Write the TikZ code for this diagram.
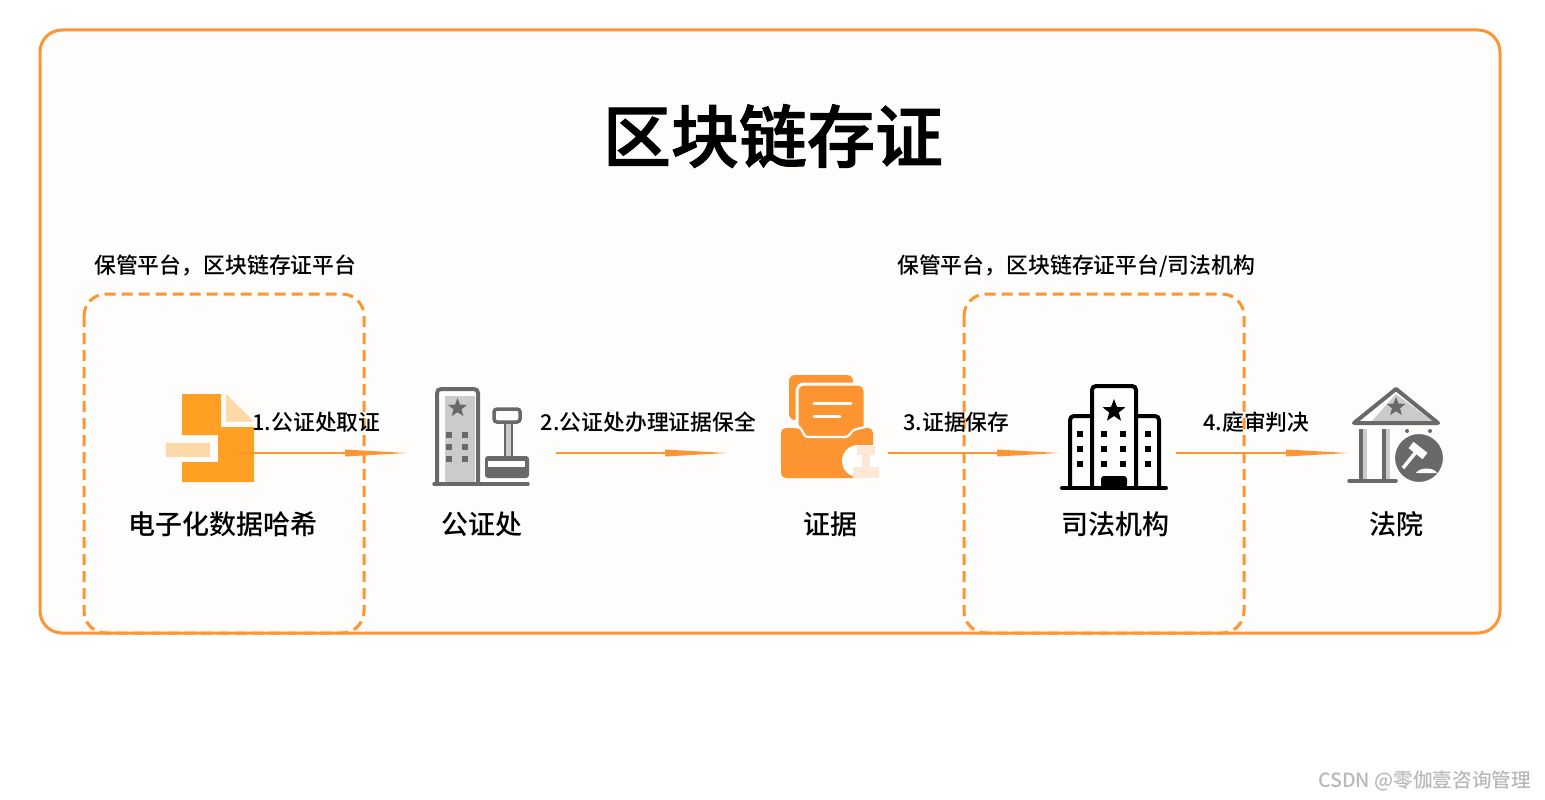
\documentclass[tikz,border=0pt]{standalone}
\usepackage{fontspec}
\setmainfont{Noto Sans CJK SC Medium}
\newfontfamily\titlefont[FakeBold=1.6]{Noto Sans CJK SC Medium}
\usetikzlibrary{arrows.meta,shapes.geometric}
\definecolor{org}{HTML}{FF9433}
\definecolor{docorg}{HTML}{FFA024}
\definecolor{doclight}{HTML}{FFD8A8}
\definecolor{foldorg}{HTML}{FD9432}
\definecolor{ivory}{HTML}{FFFDFB}
\definecolor{gr}{HTML}{696969}
\definecolor{lgr}{HTML}{CBCBCB}
\definecolor{pale}{HTML}{FDE8D8}
\tikzset{
  x=1pt,y=-1pt,
  frame/.style={draw=org,line width=3pt,rounded corners=22pt},
  zone/.style={draw=org,line width=3pt,rounded corners=22pt,dash pattern=on 11pt off 6pt},
  flow/.style={draw=org,line width=1.1pt,-{Triangle[length=62pt,width=7pt,fill=org,line width=0pt]}},
  steplabel/.style={font=\fontsize{21.8}{26}\selectfont,inner sep=0pt},
  iconlabel/.style={font=\fontsize{27}{32}\selectfont,inner sep=0pt},
  zonelabel/.style={font=\fontsize{21.85}{26}\selectfont,inner sep=0pt,anchor=west},
  starmark/.style={star,star points=5,star point ratio=2.38,inner sep=0pt,fill=#1,draw=none},
  win/.style={fill=#1,draw=none}
}
\begin{document}
\begin{tikzpicture}
\useasboundingbox (0,0) rectangle (1545,800);
\fill[white] (0,0) rectangle (1545,800);
% frame
\path[frame,fill=ivory] (40,30) rectangle (1500,633);
\node[font=\fontsize{68}{76}\titlefont\selectfont,inner sep=0pt] (title) at (773,136) {区块链存证};
% dashed zones
\path[zone] (84,294) rectangle (364,633);
\path[zone] (964,294) rectangle (1244,633);
\node[zonelabel] (z1) at (94,265.5) {保管平台，区块链存证平台};
\node[zonelabel] (z2) at (897,266.5) {保管平台，区块链存证平台/司法机构};
% document icon
\fill[docorg] (182,394) -- (221,394) -- (221,427) -- (254,427) -- (254,482) -- (182,482) -- (182,462) -- (218,462) -- (218,435) -- (182,435) -- cycle;
\fill[doclight] (226,394) -- (254,421.5) -- (226,421.5) -- cycle;
\fill[doclight] (166,443) rectangle (210,457);
% notary icon
\fill[lgr] (445,396) rectangle (475,484);
\draw[gr,line width=4pt,rounded corners=4pt] (437,484) -- (437,389) -- (478,389) -- (478,484);
\draw[gr,line width=3.5pt,line cap=round] (434,484) -- (528,484);
\node[starmark=gr,minimum size=20pt] (s1) at (457.5,408) {};
\foreach \wx in {449,465} \foreach \wy in {435,447,459}
  \fill[win=gr] (\wx-3,\wy-3) rectangle (\wx+3,\wy+3);
\fill[lgr] (505,423) rectangle (512,457);
\draw[gr,line width=1.5pt] (505,423) -- (505,457) (512,423) -- (512,457);
\draw[gr,line width=3.5pt,fill=ivory,rounded corners=3pt] (494,409) rectangle (520,422);
\fill[gr,rounded corners=3pt] (485,456) rectangle (529,478);
\fill[ivory] (488,461) rectangle (525,467);
% folder icon
\fill[foldorg,rounded corners=6pt] (789,375) rectangle (853,420);
\draw[white,line width=3pt,fill=foldorg,rounded corners=7pt] (797,440) -- (797,384) -- (865,384) -- (865,440) -- cycle;
\fill[foldorg,rounded corners=5pt] (781,478) -- (781,428) -- (800,428) -- (805,437) -- (848,437) -- (856,428) -- (873,428) -- (873,478) -- cycle;
\draw[white,line width=2.2pt,rounded corners=3pt] (797,425) -- (802,430) -- (805,437) -- (848,437) -- (853,430) -- (865,427);
\draw[white,line width=2.6pt,line cap=round] (814,403.5) -- (851,403.5) (814,416.5) -- (840,416.5);
\fill[white] (858,461) circle (16);
\fill[white] (860,445) rectangle (882,482);
\fill[pale] (857,446) rectangle (875,455);
\fill[pale] (862,455) rectangle (870,467);
\fill[pale] (853,467) rectangle (879,478);
% institution icon
\draw[black,line width=4pt,rounded corners=4pt] (1070,488) -- (1070,416) -- (1092,416);
\draw[black,line width=4pt,rounded corners=4pt] (1159,488) -- (1159,416) -- (1136,416);
\draw[black,line width=4pt,rounded corners=4pt] (1092,488) -- (1092,386) -- (1136,386) -- (1136,488);
\draw[black,line width=4pt,line cap=round] (1062,488) -- (1166,488);
\fill[black,rounded corners=3pt] (1101,488) -- (1101,476) -- (1127,476) -- (1127,488) -- cycle;
\node[starmark=black,minimum size=24pt] (s2) at (1114,411) {};
\foreach \wx in {1080,1104,1123,1148} \foreach \wy in {434,449,464}
  \fill[win=black] (\wx-3,\wy-3) rectangle (\wx+3,\wy+3);
% court icon
\fill[lgr] (1396,394) -- (1432,421) -- (1372,421) -- cycle;
\draw[gr,line width=4pt,line join=round] (1396,389) -- (1438,423) -- (1354,423) -- cycle;
\node[starmark=gr,minimum size=20pt] (s3) at (1396,407) {};
\fill[lgr] (1363,429) rectangle (1367,481);
\fill[lgr] (1386,429) rectangle (1390,481);
\fill[gr] (1359,429) rectangle (1363,481);
\fill[gr] (1382,429) rectangle (1386,481);
\draw[gr,line width=3.5pt,line cap=round] (1349,481) -- (1396,481);
\fill[gr] (1407,431) circle (2) (1430,431) circle (2);
\draw[ivory,line width=2pt,fill=gr] (1419,458) circle (25);
\draw[ivory,line width=8pt] (1411,445) -- (1425,456);
\draw[ivory,line width=3.5pt] (1416,452) -- (1403,468);
\fill[ivory] (1416,473) .. controls (1419,467) and (1434,467) .. (1437,473) -- cycle;
% labels
\node[iconlabel] (n1) at (223,524) {电子化数据哈希};
\node[iconlabel] (n2) at (481.5,524) {公证处};
\node[iconlabel] (n3) at (830.5,524) {证据};
\node[iconlabel] (n4) at (1115.5,524) {司法机构};
\node[iconlabel] (n5) at (1396,524) {法院};
% connectors
\coordinate (a1s) at (235,453); \coordinate (a1e) at (407,453);
\coordinate (a2s) at (556,453); \coordinate (a2e) at (727,453);
\coordinate (a3s) at (888,453); \coordinate (a3e) at (1059,453);
\coordinate (a4s) at (1176,453); \coordinate (a4e) at (1348,453);
\draw[flow] (a1s) -- (a1e);
\draw[flow] (a2s) -- (a2e);
\draw[flow] (a3s) -- (a3e);
\draw[flow] (a4s) -- (a4e);
\node[steplabel] (t1) at (316.5,422) {1.公证处取证};
\node[steplabel] (t2) at (648.5,422) {2.公证处办理证据保全};
\node[steplabel] (t3) at (956.5,422) {3.证据保存};
\node[steplabel] (t4) at (1256.5,422) {4.庭审判决};
% watermark
\node[font=\fontsize{19.6}{23}\selectfont,text=gray!55,inner sep=0pt,anchor=east] (wm) at (1531,781) {CSDN @零伽壹咨询管理};
\end{tikzpicture}
\end{document}
